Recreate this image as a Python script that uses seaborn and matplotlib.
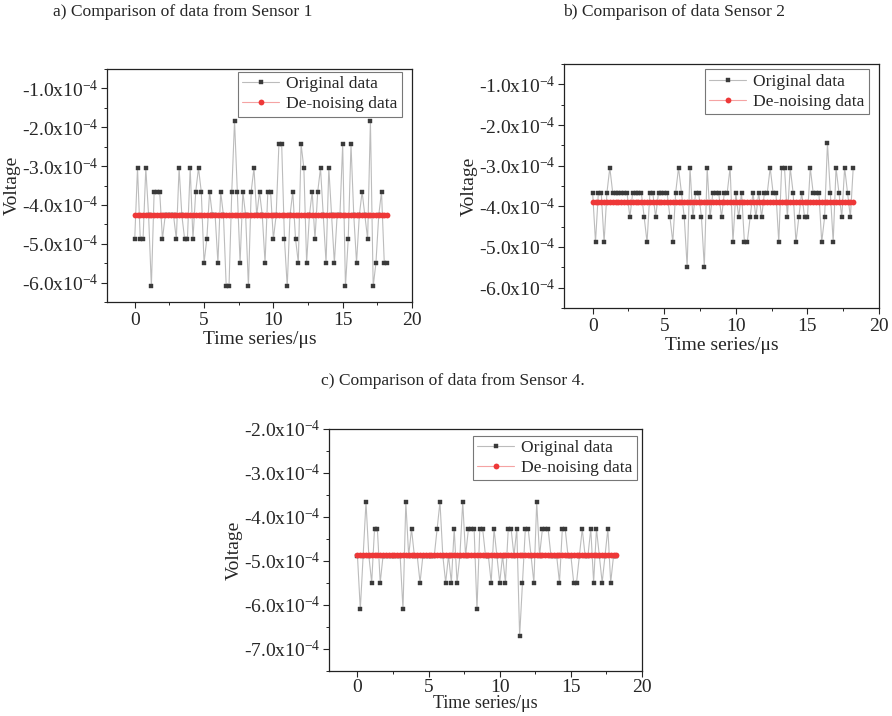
import numpy as np
import pandas as pd
import seaborn as sns
import matplotlib
matplotlib.use("Agg")
import matplotlib.pyplot as plt
from matplotlib.ticker import MultipleLocator, FuncFormatter

# sampling grid, 0.2 us step
time_us = np.round(np.arange(92) * 0.2, 1)

# voltages in units of 1e-4 V
sensor1 = [-4.88, -3.05, -4.88, -4.88, -3.05, -4.27, -6.10, -3.66, -3.66, -3.66,
           -4.88, -4.27, -4.27, -4.27, -4.27, -4.88, -3.05, -4.27, -4.88, -4.88,
           -3.05, -4.88, -3.66, -3.05, -3.66, -5.49, -4.88, -3.66, -4.27, -4.27,
           -5.49, -3.66, -4.27, -6.10, -6.10, -3.66, -1.83, -3.66, -5.49, -3.66,
           -4.27, -6.10, -3.66, -3.05, -4.27, -3.66, -4.27, -5.49, -3.66, -3.66,
           -4.88, -4.27, -2.44, -2.44, -4.88, -6.10, -4.27, -3.66, -4.88, -5.49,
           -2.44, -3.05, -5.49, -4.27, -3.66, -4.88, -3.66, -3.05, -4.27, -5.49,
           -3.05, -4.27, -5.49, -4.27, -4.27, -2.44, -6.10, -4.88, -2.44, -4.27,
           -5.49, -4.27, -3.66, -4.27, -4.88, -1.83, -6.10, -5.49, -4.27, -3.66,
           -5.49, -5.49]
sensor2 = [-3.66, -4.88, -3.66, -3.66, -4.88, -3.66, -3.05, -3.66, -3.66, -3.66,
           -3.66, -3.66, -3.66, -4.27, -3.66, -3.66, -3.66, -3.66, -4.27, -4.88,
           -3.66, -3.66, -4.27, -3.66, -3.66, -3.66, -3.66, -4.27, -4.88, -3.66,
           -3.05, -3.66, -4.27, -5.49, -3.05, -4.27, -3.66, -3.66, -4.27, -5.49,
           -3.05, -4.27, -3.66, -3.66, -3.66, -4.27, -3.66, -3.66, -3.05, -4.88,
           -3.66, -4.27, -3.66, -4.88, -4.88, -4.27, -3.66, -4.27, -3.66, -4.27,
           -3.66, -3.66, -3.05, -3.66, -3.66, -4.88, -3.05, -3.05, -4.27, -3.05,
           -3.66, -4.88, -4.27, -3.66, -4.27, -4.27, -3.05, -3.66, -3.66, -3.66,
           -4.88, -4.27, -2.44, -3.66, -4.88, -3.05, -3.66, -4.27, -3.05, -3.66,
           -4.27, -3.05]
sensor4 = [-4.88, -6.10, -4.88, -3.66, -4.88, -5.49, -4.27, -4.27, -5.49, -4.88,
           -4.88, -4.88, -4.88, -4.88, -4.88, -4.88, -6.10, -3.66, -4.88, -4.27,
           -4.88, -4.88, -5.49, -4.88, -4.88, -4.88, -4.88, -4.88, -4.27, -3.66,
           -4.88, -5.49, -4.88, -5.49, -4.27, -5.49, -4.88, -3.66, -4.88, -4.27,
           -4.27, -4.27, -6.10, -4.27, -4.27, -4.88, -4.88, -5.49, -4.27, -4.88,
           -5.49, -4.88, -5.49, -4.27, -4.27, -4.88, -4.27, -6.71, -5.49, -4.27,
           -4.27, -4.88, -5.49, -3.66, -4.88, -4.27, -4.27, -4.27, -4.88, -4.88,
           -4.88, -5.49, -4.27, -4.27, -4.88, -4.88, -5.49, -5.49, -4.88, -4.27,
           -4.88, -4.88, -4.27, -5.49, -4.27, -4.88, -5.49, -4.88, -4.27, -5.49,
           -4.88, -4.88]

# de-noised output is flat for each sensor
denoise1 = -4.25
denoise2 = -3.89
denoise4 = -4.86

titles = ["a) Comparison of data from Sensor 1",
          "b) Comparison of data Sensor 2",
          "c) Comparison of data from Sensor 4."]

sns.set_style("ticks")
plt.rcParams["font.family"] = ["Liberation Serif", "DejaVu Serif"]
plt.rcParams["mathtext.fontset"] = "custom"
plt.rcParams["mathtext.rm"] = "Liberation Serif"
plt.rcParams["mathtext.it"] = "Liberation Serif:italic"
plt.rcParams["axes.edgecolor"] = "#222222"

fig = plt.figure(figsize=(8.92, 7.16), dpi=100)
W, H = 892, 716


def px_axes(l, t, r, b):
    return fig.add_axes([l / W, 1 - b / H, (r - l) / W, (b - t) / H])


def draw(ax, raw, level, ylim, leg_anchor, xpad, xlab_size=14, xtick_pad=2):
    df = pd.DataFrame({"t": time_us, "raw": raw, "den": level})
    sns.lineplot(data=df, x="t", y="raw", ax=ax, estimator=None, sort=False,
                 color="#bcbcbc", lw=0.8, marker="s", markersize=3.1,
                 markerfacecolor="#3a3a3a", markeredgecolor="#3a3a3a", mew=0.3,
                 label="Original data")
    sns.lineplot(data=df, x="t", y="den", ax=ax, estimator=None, sort=False,
                 color="#f5a3a3", lw=0.8, marker="o", markersize=4.2,
                 markerfacecolor="#ee3838", markeredgecolor="#ee3838", mew=0,
                 label="De-noising data")
    ax.set_xlim(-2, 20)
    ax.set_ylim(*ylim)
    ax.xaxis.set_major_locator(MultipleLocator(5))
    ax.xaxis.set_minor_locator(MultipleLocator(2.5))
    ax.yaxis.set_major_locator(MultipleLocator(1))
    ax.yaxis.set_minor_locator(MultipleLocator(0.5))
    ax.yaxis.set_major_formatter(FuncFormatter(lambda v, p: "%.1fx10$^{-4}$" % v))
    ax.tick_params(which="major", direction="out", length=4, width=0.8,
                   labelsize=14, pad=2)
    ax.tick_params(axis="x", which="major", pad=xtick_pad)
    ax.tick_params(which="minor", direction="out", length=2.5, width=0.7)
    for s in ax.spines.values():
        s.set_linewidth(0.9)
    ax.set_xlabel("Time series/μs", fontsize=xlab_size, labelpad=xpad)
    ax.set_ylabel("Voltage", fontsize=14, labelpad=1)
    leg = ax.legend(loc="upper right", bbox_to_anchor=leg_anchor, borderaxespad=0,
                    fontsize=12.6, frameon=True, fancybox=False, handlelength=2.1,
                    handletextpad=0.4, borderpad=0.25, labelspacing=0.2)
    leg.get_frame().set_edgecolor("#555555")
    leg.get_frame().set_linewidth(0.8)


ax1 = px_axes(107, 69, 412, 302)
draw(ax1, sensor1, denoise1, (-6.5, -0.5), (0.966, 0.988), 1.5, xtick_pad=3)

ax2 = px_axes(564, 64, 879, 308)
draw(ax2, sensor2, denoise2, (-6.5, -0.5), (0.968, 0.978), 1.5, xtick_pad=3)

ax3 = px_axes(329, 429, 642, 671)
draw(ax3, sensor4, denoise4, (-7.5, -2.0), (0.984, 0.973), -0.5,
     xlab_size=13, xtick_pad=1.5)

fig.text(183 / W, 1 - 12 / H, titles[0], ha="center", va="center", fontsize=12.6)
fig.text(674 / W, 1 - 12 / H, titles[1], ha="center", va="center", fontsize=12.6)
fig.text(453 / W, 1 - 381 / H, titles[2], ha="center", va="center", fontsize=12.6)

fig.savefig("out.png", dpi=100, facecolor="white")
